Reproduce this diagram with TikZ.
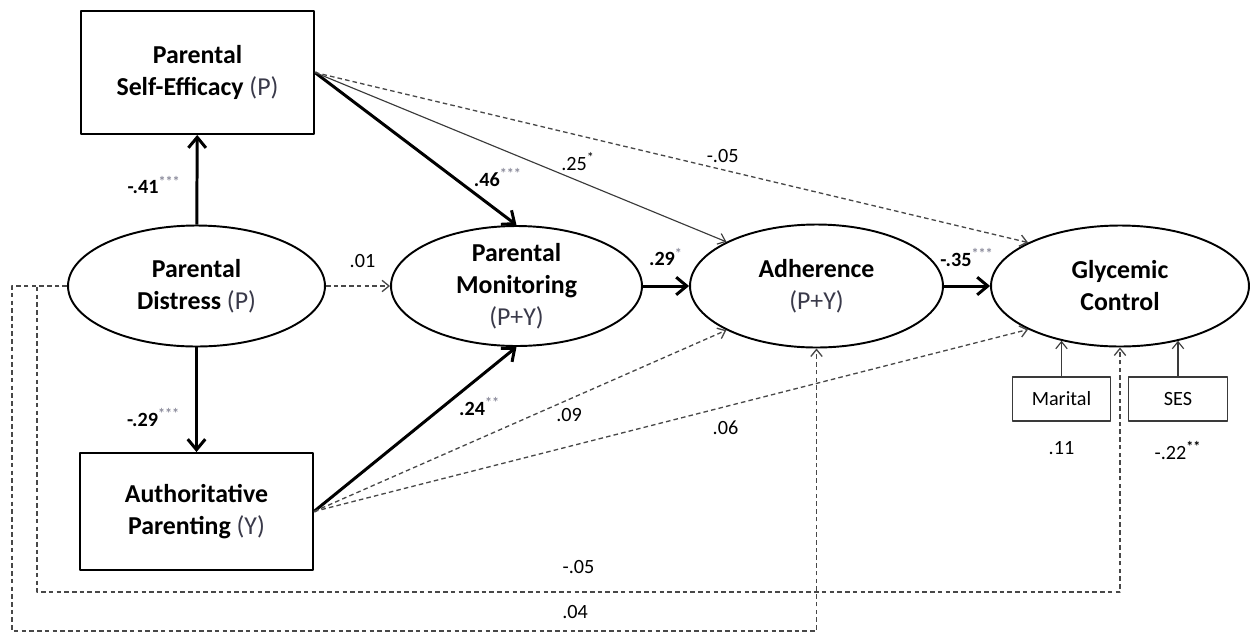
\documentclass[tikz,border=0pt]{standalone}
\usepackage{fontspec}
\setmainfont{Carlito}
\usetikzlibrary{arrows.meta,shapes.geometric}

\definecolor{pathgray}{HTML}{484848}
\definecolor{linegray}{HTML}{3A3A3A}
\definecolor{idgray}{HTML}{3A3A4A}
\definecolor{stargray}{HTML}{8C8C9C}

\newcommand{\rater}[1]{{\mdseries\color{idgray}(#1)}}
\newcommand{\sig}[1]{\textsuperscript{\color{stargray}#1}}

\begin{document}
\begin{tikzpicture}[x=0.02cm,y=-0.02cm,line join=round,
                    >={Straight Barb[length=4pt,width=6.5pt]}]
  \tikzstyle{latent}=[ellipse,draw,line width=1.1pt,fill=white,inner sep=-5pt,
                      align=center,font=\fontsize{14.7}{18.2}\selectfont\bfseries]
  \tikzstyle{observed}=[rectangle,draw,line width=1.1pt,inner sep=0pt,
                        minimum width=4.66cm,align=center,
                        font=\fontsize{14.7}{18.2}\selectfont\bfseries]
  \tikzstyle{covariate}=[rectangle,draw=linegray,line width=0.65pt,
                         minimum width=1.97cm,minimum height=0.88cm,
                         font=\fontsize{11.5}{14}\selectfont]
  \tikzstyle{strong}=[line width=1.7pt,-{Straight Barb[length=6pt,width=10pt]}]
  \tikzstyle{weak}=[line width=0.65pt,draw=linegray,->]
  \tikzstyle{nonsig}=[weak,line width=0.75pt,draw=pathgray,dash pattern=on 2.6pt off 1.8pt]
  \tikzstyle{coef}=[font=\fontsize{11.5}{14}\selectfont,inner sep=1pt]
  \tikzstyle{bcoef}=[coef,font=\fontsize{11.5}{14}\selectfont\bfseries]

  \useasboundingbox (0,0) rectangle (1251,633);

  \node[observed,minimum height=2.46cm] (se)   at (197.5,72.5)  {Parental\\Self-Efficacy \rater{P}};
  \node[latent,minimum width=5.14cm,minimum height=2.42cm] (pd)  at (196.5,286) {Parental\\Distress \rater{P}};
  \node[observed,minimum height=2.34cm] (auth) at (196.5,511.5) {Authoritative\\Parenting \rater{Y}};
  \node[latent,minimum width=5.02cm,minimum height=2.40cm] (pm)  at (516.5,286) {Parental\\Monitoring\\\rater{P+Y}};
  \node[latent,minimum width=5.06cm,minimum height=2.46cm] (adh) at (816.5,286) {Adherence\\\rater{P+Y}};
  \node[latent,minimum width=5.16cm,minimum height=2.42cm] (gc)  at (1120,286)  {Glycemic\\Control};
  \node[covariate,label={[coef,label distance=10pt]below:.11}] (mar) at (1061.5,399) {Marital};
  \node[covariate,label={[coef,label distance=10pt]below:-.22\textsuperscript{\bfseries **}}] (ses) at (1178,399) {SES};

  \path (pd) edge[strong] node[bcoef,pos=.44,left=7.5pt] {-.41\sig{***}} (se)
             edge[strong] node[bcoef,pos=.67,left=7.5pt] {-.29\sig{***}} (auth)
             edge[nonsig] node[coef,pos=.57,above=9.2pt] {.01} (pm)
        (pm) edge[strong] node[bcoef,above=9.5pt] {.29\sig{*}} (adh)
        (adh) edge[strong] node[bcoef,above=9.2pt] {-.35\sig{***}} (gc);

  \path (se.east) edge[strong] node[bcoef,pos=.69,right=9.5pt] {.46\sig{***}} (pm.north)
                  edge[weak] node[coef,pos=.593,anchor=south west] {.25\textsuperscript{*}} (adh.north west)
                  edge[nonsig] node[coef,pos=.546,anchor=south west] {-.05} (gc.north west);

  \path (auth.east) edge[strong] node[bcoef,pos=.64,right=7pt] {.24\sig{**}} (pm.south)
                    edge[nonsig] node[coef,pos=.582,anchor=north west] {.09} (adh.south west)
                    edge[nonsig] node[coef,pos=.555,anchor=north west,yshift=-4.7pt] {.06} (gc.south west);

  \path (mar) edge[weak] (mar |- gc.223)
        (ses) edge[weak] (ses |- gc.317);

  % long dashed paths round the left side
  \coordinate (innerbend) at (37,592);
  \coordinate (outerbend) at (12,631);
  \draw[nonsig] (pd.west) -| (innerbend) -- node[coef,above=9pt] {-.05} (innerbend -| gc.south) -- (gc.south);
  \draw[nonsig] (pd.west) -| (outerbend) -- node[coef,pos=.7,above=5.8pt] {.04} (outerbend -| adh.south) -- (adh.south);
\end{tikzpicture}
\end{document}
